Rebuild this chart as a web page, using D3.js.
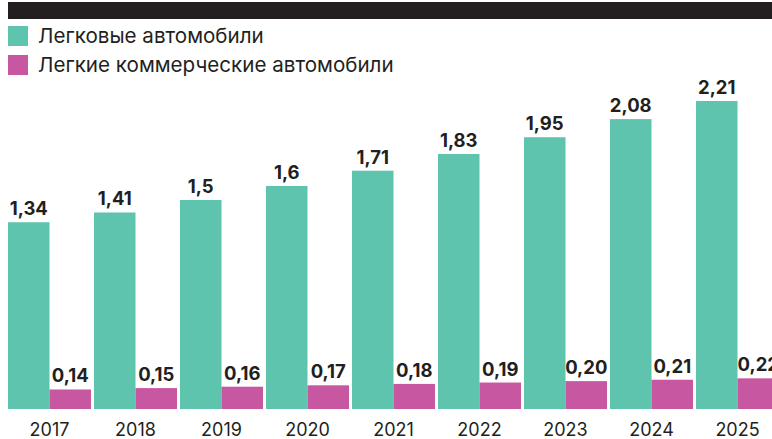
<!DOCTYPE html>
<html>
<head>
<meta charset="utf-8">
<script src="https://cdn.jsdelivr.net/npm/d3@7"></script>
<style>
  body { margin: 0; background: #fff; }
  svg { display: block; font-family: Inter, "Noto Sans", sans-serif; }
</style>
</head>
<body>
<script>
const years = ["2017", "2018", "2019", "2020", "2021", "2022", "2023", "2024", "2025"];
const passenger = [1.34, 1.41, 1.5, 1.6, 1.71, 1.83, 1.95, 2.08, 2.21];
const commercial = [0.14, 0.15, 0.16, 0.17, 0.18, 0.19, 0.2, 0.21, 0.22];
const seriesNames = ["Легковые автомобили", "Легкие коммерческие автомобили"];
const colors = ["#5fc4ad", "#c657a0"];

const width = 772;
const height = 439;
const baseline = 409;

const svg = d3
  .select("body")
  .append("svg")
  .attr("width", width)
  .attr("height", height);

// top black strip
svg.append("rect")
  .attr("x", 8).attr("y", 2)
  .attr("width", width - 8).attr("height", 17)
  .attr("fill", "#231f20");

// legend
const legend = svg.append("g");
seriesNames.forEach((name, i) => {
  const g = legend.append("g").attr("transform", `translate(8 ${26 + i * 29})`);
  g.append("rect").attr("width", 20).attr("height", 20).attr("fill", colors[i]);
  g.append("text")
    .attr("x", 30).attr("y", 17)
    .attr("font-size", 20.6)
    .attr("fill", "#231f20")
    .text(name);
});

// 86px per year, 3px gap between groups
const x0 = d3.scaleBand()
  .domain(years)
  .range([8, 8 + 86 * years.length - 3])
  .paddingInner(3 / 86)
  .paddingOuter(0);

const x1 = d3.scaleBand()
  .domain([0, 1])
  .range([0, x0.bandwidth()]);

const y = d3.scaleLinear().domain([0, 2.21]).range([baseline, 101]);

const fmtP = (v) => String(v).replace(".", ",");
const fmtC = (v) => v.toFixed(2).replace(".", ",");

const rows = years.map((yr, i) => ({ year: yr, vals: [passenger[i], commercial[i]] }));

const groups = svg.selectAll("g.year")
  .data(rows)
  .enter()
  .append("g")
  .attr("class", "year")
  .attr("transform", (d) => `translate(${x0(d.year)} 0)`);

groups.selectAll("rect")
  .data((d) => d.vals)
  .enter()
  .append("rect")
  .attr("x", (d, i) => x1(i))
  .attr("width", x1.bandwidth())
  .attr("y", (d) => y(d))
  .attr("height", (d) => baseline - y(d))
  .attr("fill", (d, i) => colors[i]);

groups.selectAll("text.val")
  .data((d) => d.vals)
  .enter()
  .append("text")
  .attr("class", "val")
  .attr("x", (d, i) => x1(i) + x1.bandwidth() / 2)
  .attr("y", (d) => y(d) - 7)
  .attr("text-anchor", "middle")
  .attr("font-size", 18.5)
  .attr("font-weight", 700)
  .attr("fill", "#231f20")
  .text((d, i) => (i === 0 ? fmtP(d) : fmtC(d)));

// year axis labels
const xAxis = d3.axisBottom(x0).tickSize(0).tickPadding(0);
const axisG = svg.append("g")
  .attr("transform", `translate(0 ${baseline})`)
  .call(xAxis);
axisG.select(".domain").remove();
axisG.selectAll("text")
  .attr("dy", null)
  .attr("y", 27)
  .attr("font-size", 18)
  .attr("font-family", "Inter, 'Noto Sans', sans-serif")
  .attr("fill", "#231f20");
</script>
</body>
</html>
